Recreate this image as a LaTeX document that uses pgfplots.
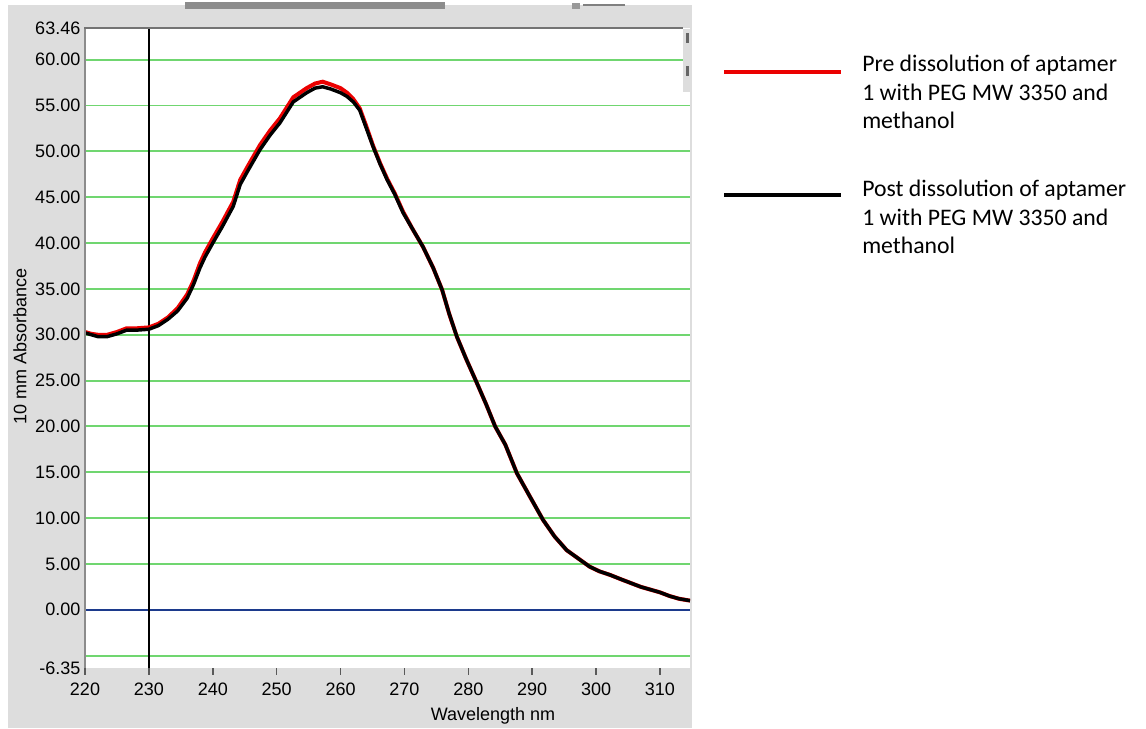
\documentclass[border=0pt]{standalone}
\usepackage{pgfplots}
\pgfplotsset{compat=1.18}
\usepackage{fontspec}
\setmainfont{Liberation Sans}
\newfontfamily\calibri{Carlito}

\definecolor{panel}{RGB}{221,221,221}
\definecolor{gridgreen}{RGB}{112,214,112}
\definecolor{zeroblue}{RGB}{28,58,140}
\definecolor{prered}{RGB}{235,0,0}

% post dissolution (black)
\pgfplotstableread{
x y
220 30.2
221 30.0
222 29.8
223.5 29.8
225 30.1
226.5 30.5
228 30.5
230 30.6
231.5 31.0
233 31.7
234.5 32.6
236 34.0
237 35.5
238 37.3
238.8 38.5
240 40.0
241.5 41.8
243.2 44.0
244.3 46.4
245.5 47.9
247.4 50.2
249 51.8
250.5 53.1
252.6 55.4
254.7 56.4
256 56.9
257.2 57.05
258.5 56.8
260 56.4
261 56.0
262 55.4
263 54.5
264 52.6
265.1 50.5
266.2 48.6
267.3 46.9
268.5 45.3
269.8 43.3
271.3 41.5
272.9 39.6
274.5 37.3
275.9 34.9
277 32.3
278.2 29.8
279.7 27.3
281.3 24.8
282.8 22.4
284.2 20.0
285.8 18.0
287.6 14.9
289.6 12.4
291.7 9.8
293.5 8.0
295.4 6.5
297.5 5.45
299 4.7
300.5 4.2
302.2 3.8
304 3.3
305.5 2.9
307 2.5
308.5 2.2
310 1.9
311.5 1.5
313 1.2
314.7 1.0
}\postdata

% pre dissolution (red)
\pgfplotstableread{
x y
220 30.3
221 30.1
222 30.0
223.5 30.0
225 30.3
226.5 30.7
228 30.7
230 30.8
231.5 31.2
233 31.9
234.5 32.9
236 34.4
237 35.9
238 37.8
238.8 39.0
240 40.5
241.5 42.3
243.2 44.5
244.3 46.9
245.5 48.4
247.4 50.7
249 52.3
250.5 53.6
252.6 55.9
254.7 56.9
256 57.4
257.2 57.6
258.5 57.3
260 56.9
261 56.4
262 55.7
263 54.7
264 52.8
265.1 50.6
266.2 48.7
267.3 47.0
268.5 45.4
269.8 43.4
271.3 41.5
272.9 39.6
274.5 37.3
275.9 34.9
277 32.3
278.2 29.8
279.7 27.3
281.3 24.8
282.8 22.4
284.2 20.0
285.8 18.0
287.6 14.9
289.6 12.4
291.7 9.8
293.5 8.0
295.4 6.5
297.5 5.45
299 4.7
300.5 4.2
302.2 3.8
304 3.3
305.5 2.9
307 2.5
308.5 2.2
310 1.9
311.5 1.5
313 1.2
314.7 1.0
}\predata

\begin{document}
\begin{tikzpicture}
\begin{scope}[x=0.75pt,y=-0.75pt]
  \path[use as bounding box] (0,0) rectangle (1146,728);
  \fill[white] (0,0) rectangle (1146,728);
  \fill[panel] (8,5) rectangle (692,728);
  \fill[black!45] (185,2) rectangle (445,9);
  \fill[black!40] (572,3) rectangle (580,9);
  \draw[black!50, line width=1pt] (583,5) -- (625,5);
\end{scope}

\begin{axis}[
  at={(63.75pt,-501pt)}, anchor=south west,
  scale only axis,
  width=453.75pt, height=480pt,
  xmin=220, xmax=314.7,
  ymin=-6.35, ymax=63.46,
  axis background/.style={fill=white},
  axis line style={draw=none},
  clip=true,
  font=\fontsize{13.5}{15}\selectfont,
  /pgf/number format/assume math mode=true,
  xtick={220,230,...,310},
  xticklabels={220,230,240,250,260,270,280,290,300,310},
  xtick pos=bottom,
  tick align=outside,
  xtick style={draw=black!65, line width=1.2pt},
  major tick length=5pt,
  ytick={-6.35,0,5,10,15,20,25,30,35,40,45,50,55,60,63.46},
  yticklabels={-6.35,0.00,5.00,10.00,15.00,20.00,25.00,30.00,35.00,40.00,45.00,50.00,55.00,60.00,63.46},
  ytick style={draw=none},
  yticklabel style={anchor=east, xshift=5pt},
  xticklabel style={yshift=-3pt},
]
% green grid lines
\addplot[gridgreen, line width=1.4pt, forget plot] coordinates {(220,-5) (314.7,-5)};
\addplot[gridgreen, line width=1.4pt, forget plot] coordinates {(220,5) (314.7,5)};
\addplot[gridgreen, line width=1.4pt, forget plot] coordinates {(220,10) (314.7,10)};
\addplot[gridgreen, line width=1.4pt, forget plot] coordinates {(220,15) (314.7,15)};
\addplot[gridgreen, line width=1.4pt, forget plot] coordinates {(220,20) (314.7,20)};
\addplot[gridgreen, line width=1.4pt, forget plot] coordinates {(220,25) (314.7,25)};
\addplot[gridgreen, line width=1.4pt, forget plot] coordinates {(220,30) (314.7,30)};
\addplot[gridgreen, line width=1.4pt, forget plot] coordinates {(220,35) (314.7,35)};
\addplot[gridgreen, line width=1.4pt, forget plot] coordinates {(220,40) (314.7,40)};
\addplot[gridgreen, line width=1.4pt, forget plot] coordinates {(220,45) (314.7,45)};
\addplot[gridgreen, line width=1.4pt, forget plot] coordinates {(220,50) (314.7,50)};
\addplot[gridgreen, line width=1.4pt, forget plot] coordinates {(220,55) (314.7,55)};
\addplot[gridgreen, line width=1.4pt, forget plot] coordinates {(220,60) (314.7,60)};
\addplot[zeroblue, line width=1.8pt, forget plot] coordinates {(220,0) (314.7,0)};
\addplot[black, line width=2pt, forget plot] coordinates {(230,-6.35) (230,63.46)};
\addplot[prered, line width=3pt] table[x=x,y=y] {\predata};
\addplot[black, line width=2.6pt] table[x=x,y=y] {\postdata};
\end{axis}

\begin{scope}[x=0.75pt,y=-0.75pt]
  \draw[black!45, line width=1.5pt] (84.5,28) -- (84.5,668);
  \draw[black!55, line width=1.5pt] (84,28.5) -- (683,28.5);
  \fill[panel] (683,29) rectangle (692,92);
  \fill[black!60] (686,33) rectangle (689,43);
  \fill[black!60] (686,66) rectangle (689,76);
  \node[font=\fontsize{13.5}{15}\selectfont, anchor=center] at (493,716) {Wavelength nm};
  \node[font=\fontsize{13.5}{15}\selectfont, rotate=90, anchor=center] at (20,346) {10 mm Absorbance};
  \draw[prered, line width=3pt] (724,72) -- (841,72);
  \draw[black, line width=3pt] (724,195) -- (841,195);
  \begin{scope}[every node/.style={font=\calibri\fontsize{17.8}{20}\selectfont, anchor=base west, inner sep=0pt}]
    \node at (862,72) {Pre dissolution of aptamer};
    \node at (862,101) {1 with PEG MW 3350 and};
    \node at (862,129) {methanol};
    \node at (862,197) {Post dissolution of aptamer};
    \node at (862,226) {1 with PEG MW 3350 and};
    \node at (862,254) {methanol};
  \end{scope}
\end{scope}
\end{tikzpicture}
\end{document}
